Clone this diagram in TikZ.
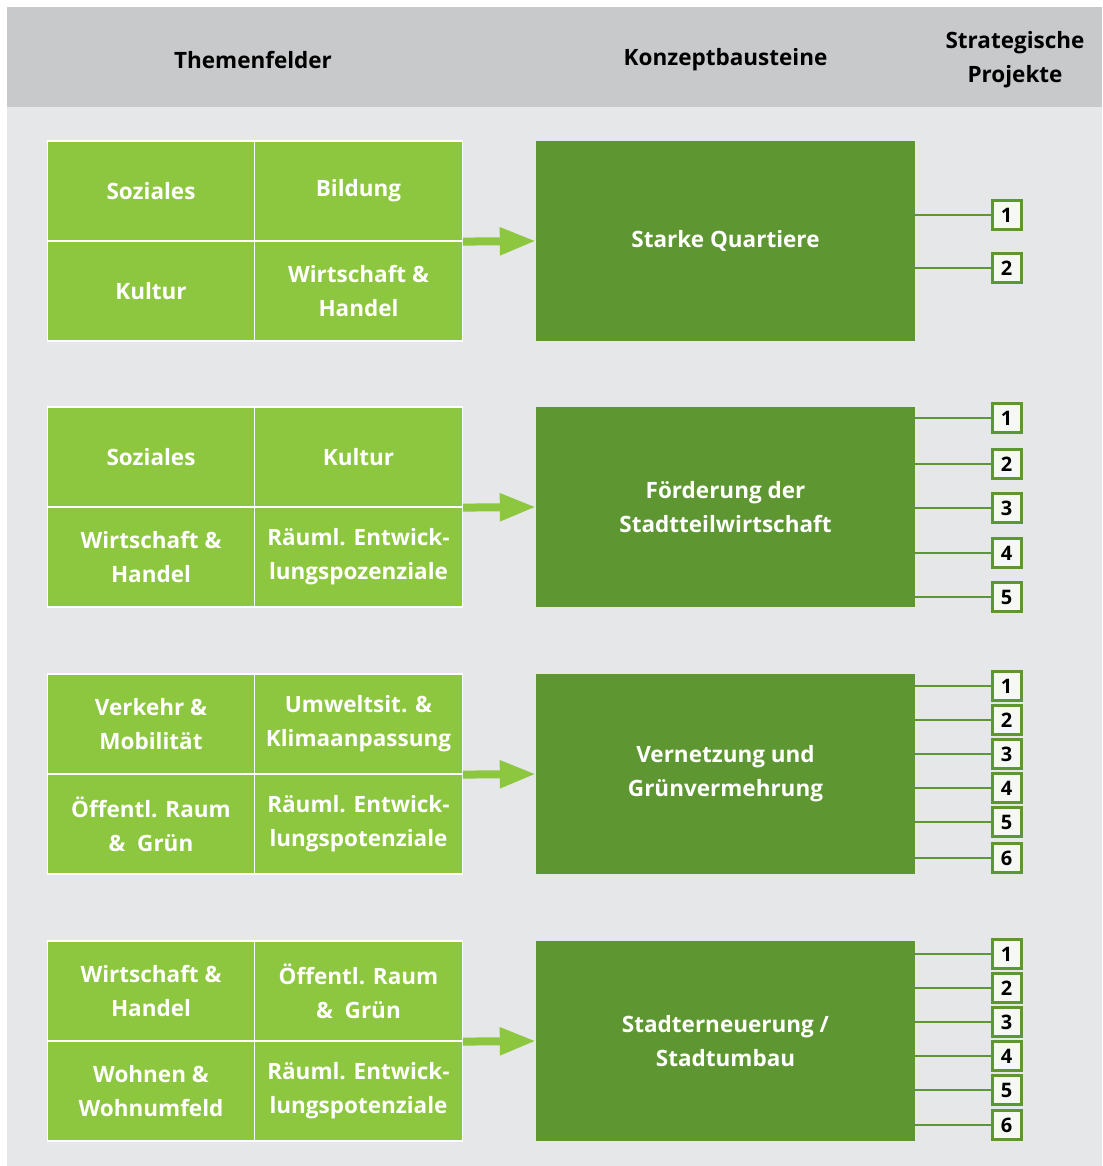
\documentclass[tikz,border=0pt]{standalone}
\usepackage{fontspec}
\setmainfont{Open Sans}
\usepackage{xcolor}
\definecolor{colLight}{HTML}{8DC63F}
\definecolor{colDark}{HTML}{5E9732}
\definecolor{colHead}{HTML}{C8C9CB}
\definecolor{colBack}{HTML}{E6E7E9}
\definecolor{colNum}{HTML}{F6F8F6}
\usetikzlibrary{arrows.meta, positioning}

\tikzset{
  txt/.style={font=\bfseries\fontsize{22.5}{34}\selectfont, align=center},
  cell/.style={txt, draw=white, line width=1.2pt, fill=colLight, text=white,
    minimum width=207.5pt, minimum height=100pt, inner sep=0pt},
  block/.style={txt, fill=colDark, text=white,
    minimum width=379pt, minimum height=200pt, inner sep=0pt},
  numbox/.style={draw=colDark, line width=3pt, fill=colNum, text=black,
    minimum size=29pt, inner sep=0pt, font=\bfseries\fontsize{20}{20}\selectfont},
  feed/.style={colLight, line width=8pt, -{Triangle[length=36pt, width=26pt]}},
  link/.style={colDark, line width=2.5pt},
  headtxt/.style={txt, text=black}
}

\begin{document}
\begin{tikzpicture}[x=1pt, y=-1pt]
  \useasboundingbox (0,0) rectangle (1102,1166);
  % Hintergrund
  \fill[colBack] (7,107) rectangle (1102,1166);
  \fill[colHead] (7,7) rectangle (1102,107);

  % Kopfzeile
  \node[headtxt] (hThemen) at (253,60) {Themenfelder};
  \node[headtxt] (hKonzept) at (725.5,60) {Konzeptbausteine};
  \node[headtxt] (hProjekte) at (1015,60) {Strategische\\Projekte};

  % === Block 1 (top y=141) ===
  \node[cell] (s1a) at (151,191) {Soziales};
  \node[cell] (s1b) at (358.5,191) {Bildung};
  \node[cell] (s1c) at (151,291) {Kultur};
  \node[cell] (s1d) at (358.5,291) {Wirtschaft \&\\Handel};
  \node[block] (s1big) at (725.5,241) {Starke Quartiere};
  \draw[feed] (s1b.south east) -- (s1big.west);
  \foreach \n/\y in {1/74, 2/127} {
    \node[numbox] (s1n\n) at (1006.5,141+\y) {\n};
    \draw[link] (s1n\n.west -| s1big.east) -- (s1n\n.west);
  }

  % === Block 2 (top y=407) ===
  \node[cell] (s2a) at (151,457) {Soziales};
  \node[cell] (s2b) at (358.5,457) {Kultur};
  \node[cell] (s2c) at (151,557) {Wirtschaft \&\\Handel};
  \node[cell] (s2d) at (358.5,557) {Räuml. Entwick-\\lungspozenziale};
  \node[block] (s2big) at (725.5,507) {Förderung der\\Stadtteilwirtschaft};
  \draw[feed] (s2b.south east) -- (s2big.west);
  \foreach \n/\y in {1/11, 2/57, 3/101, 4/146, 5/190} {
    \node[numbox] (s2n\n) at (1006.5,407+\y) {\n};
    \draw[link] (s2n\n.west -| s2big.east) -- (s2n\n.west);
  }

  % === Block 3 (top y=674) ===
  \node[cell] (s3a) at (151,724) {Verkehr \&\\Mobilität};
  \node[cell] (s3b) at (358.5,724) {Umweltsit. \&\\Klimaanpassung};
  \node[cell] (s3c) at (151,824) {Öffentl. Raum\\\&~ Grün};
  \node[cell] (s3d) at (358.5,824) {Räuml. Entwick-\\lungspotenziale};
  \node[block] (s3big) at (725.5,774) {Vernetzung und\\Grünvermehrung};
  \draw[feed] (s3b.south east) -- (s3big.west);
  \foreach \n/\y in {1/12, 2/46, 3/80, 4/114, 5/148, 6/184} {
    \node[numbox] (s3n\n) at (1006.5,674+\y) {\n};
    \draw[link] (s3n\n.west -| s3big.east) -- (s3n\n.west);
  }

  % === Block 4 (top y=941) ===
  \node[cell] (s4a) at (151,991) {Wirtschaft \&\\Handel};
  \node[cell] (s4b) at (358.5,991) {Öffentl. Raum\\\&~ Grün};
  \node[cell] (s4c) at (151,1091) {Wohnen \&\\Wohnumfeld};
  \node[cell] (s4d) at (358.5,1091) {Räuml. Entwick-\\lungspotenziale};
  \node[block] (s4big) at (725.5,1041) {Stadterneuerung /\\Stadtumbau};
  \draw[feed] (s4b.south east) -- (s4big.west);
  \foreach \n/\y in {1/13, 2/47, 3/81, 4/115, 5/149, 6/184} {
    \node[numbox] (s4n\n) at (1006.5,941+\y) {\n};
    \draw[link] (s4n\n.west -| s4big.east) -- (s4n\n.west);
  }
\end{tikzpicture}
\end{document}
